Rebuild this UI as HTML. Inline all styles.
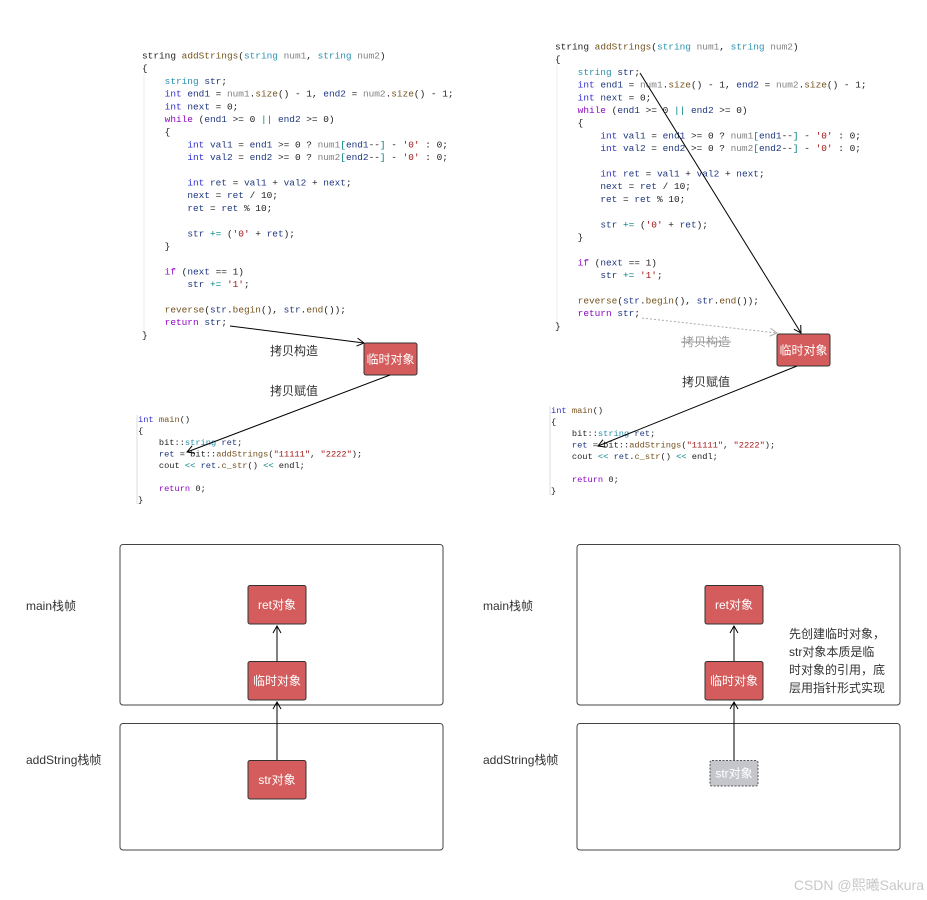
<!DOCTYPE html>
<html><head><meta charset="utf-8"><style>
html,body{margin:0;padding:0;background:#fff;width:927px;height:900px;overflow:hidden}
svg text{white-space:pre}
.c{font-family:"Liberation Mono",monospace;font-size:9.45px;fill:#1e1e1e}
.m{font-family:"Liberation Mono",monospace;font-size:8.7px;fill:#1e1e1e}
.k{fill:#2f2fd0}.t{fill:#2b91af}.p{fill:#8f08c4}.f{fill:#74531f}.s{fill:#a31515}.g{fill:#808080}.v{fill:#1f377f}.o{fill:#008080}
.cn{font-family:"Liberation Sans","Noto Sans CJK SC",sans-serif}
</style></head><body>
<svg width="927" height="900" xmlns="http://www.w3.org/2000/svg">
<defs>
<marker id="a" markerWidth="10" markerHeight="10" refX="8" refY="5" orient="auto" markerUnits="userSpaceOnUse"><path d="M1,1 L8,5 L1,9" fill="none" stroke="#000" stroke-width="1"/></marker>
<marker id="ag" markerWidth="10" markerHeight="10" refX="8" refY="5" orient="auto" markerUnits="userSpaceOnUse"><path d="M1,1 L8,5 L1,9" fill="none" stroke="#aaa" stroke-width="1"/></marker>
<g id="code">
<text class="c" y="0">string <tspan class="f">addStrings</tspan>(<tspan class="t">string</tspan> <tspan class="g">num1</tspan>, <tspan class="t">string</tspan> <tspan class="g">num2</tspan>)</text>
<text class="c" y="12.7">{</text>
<text class="c" y="25.4">    <tspan class="t">string</tspan> <tspan class="v">str</tspan>;</text>
<text class="c" y="38.1">    <tspan class="k">int</tspan> <tspan class="v">end1</tspan> = <tspan class="g">num1</tspan>.<tspan class="f">size</tspan>() - 1, <tspan class="v">end2</tspan> = <tspan class="g">num2</tspan>.<tspan class="f">size</tspan>() - 1;</text>
<text class="c" y="50.8">    <tspan class="k">int</tspan> <tspan class="v">next</tspan> = 0;</text>
<text class="c" y="63.5">    <tspan class="p">while</tspan> (<tspan class="v">end1</tspan> &gt;= 0 <tspan class="o">||</tspan> <tspan class="v">end2</tspan> &gt;= 0)</text>
<text class="c" y="76.2">    {</text>
<text class="c" y="88.9">        <tspan class="k">int</tspan> <tspan class="v">val1</tspan> = <tspan class="v">end1</tspan> &gt;= 0 ? <tspan class="g">num1</tspan><tspan class="o">[</tspan><tspan class="v">end1</tspan>--<tspan class="o">]</tspan> - <tspan class="s">'0'</tspan> : 0;</text>
<text class="c" y="101.6">        <tspan class="k">int</tspan> <tspan class="v">val2</tspan> = <tspan class="v">end2</tspan> &gt;= 0 ? <tspan class="g">num2</tspan><tspan class="o">[</tspan><tspan class="v">end2</tspan>--<tspan class="o">]</tspan> - <tspan class="s">'0'</tspan> : 0;</text>
<text class="c" y="127">        <tspan class="k">int</tspan> <tspan class="v">ret</tspan> = <tspan class="v">val1</tspan> + <tspan class="v">val2</tspan> + <tspan class="v">next</tspan>;</text>
<text class="c" y="139.7">        <tspan class="v">next</tspan> = <tspan class="v">ret</tspan> / 10;</text>
<text class="c" y="152.4">        <tspan class="v">ret</tspan> = <tspan class="v">ret</tspan> % 10;</text>
<text class="c" y="177.8">        <tspan class="v">str</tspan> <tspan class="o">+=</tspan> (<tspan class="s">'0'</tspan> + <tspan class="v">ret</tspan>);</text>
<text class="c" y="190.5">    }</text>
<text class="c" y="215.9">    <tspan class="p">if</tspan> (<tspan class="v">next</tspan> == 1)</text>
<text class="c" y="228.6">        <tspan class="v">str</tspan> <tspan class="o">+=</tspan> <tspan class="s">'1'</tspan>;</text>
<text class="c" y="254">    <tspan class="f">reverse</tspan>(<tspan class="v">str</tspan>.<tspan class="f">begin</tspan>(), <tspan class="v">str</tspan>.<tspan class="f">end</tspan>());</text>
<text class="c" y="266.7">    <tspan class="p">return</tspan> <tspan class="v">str</tspan>;</text>
<text class="c" y="279.4">}</text>
<line x1="2" y1="16" x2="2" y2="276" stroke="#ddd" stroke-dasharray="1,1"/>
</g>
<g id="main">
<text class="m" y="0"><tspan class="k">int</tspan> <tspan class="f">main</tspan>()</text>
<text class="m" y="11.5">{</text>
<text class="m" y="23">    bit::<tspan class="t">string</tspan> <tspan class="v">ret</tspan>;</text>
<text class="m" y="34.5">    <tspan class="v">ret</tspan> = bit::<tspan class="f">addStrings</tspan>(<tspan class="s">"11111"</tspan>, <tspan class="s">"2222"</tspan>);</text>
<text class="m" y="46">    cout <tspan class="o">&lt;&lt;</tspan> <tspan class="v">ret</tspan>.<tspan class="f">c_str</tspan>() <tspan class="o">&lt;&lt;</tspan> endl;</text>
<text class="m" y="69">    <tspan class="p">return</tspan> 0;</text>
<text class="m" y="80.5">}</text>
<line x1="-1" y1="-7" x2="-1" y2="82" stroke="#ddd"/>
</g>
</defs>

<use href="#code" x="142" y="58.5"/>
<use href="#code" x="555" y="49.5"/>
<use href="#main" x="138" y="422"/>
<use href="#main" x="551" y="413"/>

<!-- left upper -->
<rect x="364" y="343" width="53" height="32" rx="2" fill="#d45c5c" stroke="#333" stroke-width="1"/>
<text x="390.5" y="363.5" class="cn" font-size="12" fill="#fff" text-anchor="middle">临时对象</text>
<line x1="230" y1="326" x2="364" y2="343" stroke="#000" marker-end="url(#a)"/>
<line x1="390" y1="375" x2="187" y2="452" stroke="#000" marker-end="url(#a)"/>
<text x="270" y="355" class="cn" font-size="12" fill="#333">拷贝构造</text>
<text x="270" y="395" class="cn" font-size="12" fill="#333">拷贝赋值</text>

<!-- right upper -->
<rect x="777" y="334" width="53" height="32" rx="2" fill="#d45c5c" stroke="#333" stroke-width="1"/>
<text x="803.5" y="354.5" class="cn" font-size="12" fill="#fff" text-anchor="middle">临时对象</text>
<line x1="640" y1="73" x2="801" y2="333" stroke="#000" marker-end="url(#a)"/>
<line x1="642" y1="318" x2="777" y2="333" stroke="#aaa" stroke-dasharray="2,2" marker-end="url(#ag)"/>
<line x1="797" y1="366" x2="598" y2="446" stroke="#000" marker-end="url(#a)"/>
<text x="682" y="346" class="cn" font-size="12" fill="#999">拷贝构造</text>
<line x1="681" y1="342" x2="731" y2="342" stroke="#999"/>
<text x="682" y="386" class="cn" font-size="12" fill="#333">拷贝赋值</text>

<!-- bottom left -->
<rect x="120" y="544.5" width="323" height="160.5" rx="3" fill="none" stroke="#444"/>
<rect x="120" y="723.5" width="323" height="126.5" rx="3" fill="none" stroke="#444"/>
<text x="26" y="610" class="cn" font-size="12" fill="#333">main栈帧</text>
<text x="26" y="764" class="cn" font-size="12" fill="#333">addString栈帧</text>
<rect x="248" y="585.5" width="58" height="38.5" rx="2" fill="#d45c5c" stroke="#333"/>
<text x="277" y="609" class="cn" font-size="12" fill="#fff" text-anchor="middle">ret对象</text>
<rect x="248" y="661.5" width="58" height="38.5" rx="2" fill="#d45c5c" stroke="#333"/>
<text x="277" y="685" class="cn" font-size="12" fill="#fff" text-anchor="middle">临时对象</text>
<rect x="248" y="760.5" width="58" height="38.5" rx="2" fill="#d45c5c" stroke="#333"/>
<text x="277" y="784" class="cn" font-size="12" fill="#fff" text-anchor="middle">str对象</text>
<line x1="277" y1="661" x2="277" y2="626" stroke="#000" marker-end="url(#a)"/>
<line x1="277" y1="760" x2="277" y2="702" stroke="#000" marker-end="url(#a)"/>

<!-- bottom right -->
<rect x="577" y="544.5" width="323" height="160.5" rx="3" fill="none" stroke="#444"/>
<rect x="577" y="723.5" width="323" height="126.5" rx="3" fill="none" stroke="#444"/>
<text x="483" y="610" class="cn" font-size="12" fill="#333">main栈帧</text>
<text x="483" y="764" class="cn" font-size="12" fill="#333">addString栈帧</text>
<rect x="705" y="585.5" width="58" height="38.5" rx="2" fill="#d45c5c" stroke="#333"/>
<text x="734" y="609" class="cn" font-size="12" fill="#fff" text-anchor="middle">ret对象</text>
<rect x="705" y="661.5" width="58" height="38.5" rx="2" fill="#d45c5c" stroke="#333"/>
<text x="734" y="685" class="cn" font-size="12" fill="#fff" text-anchor="middle">临时对象</text>
<rect x="710" y="760.5" width="48" height="25.5" rx="2" fill="#c4c6cc" stroke="#555" stroke-dasharray="2,1.5"/>
<text x="734" y="777.5" class="cn" font-size="12" fill="#fff" text-anchor="middle">str对象</text>
<line x1="734" y1="661" x2="734" y2="626" stroke="#000" marker-end="url(#a)"/>
<line x1="734" y1="760" x2="734" y2="702" stroke="#000" marker-end="url(#a)"/>
<text class="cn" font-size="12" fill="#333"><tspan x="789" y="638">先创建临时对象，</tspan><tspan x="789" y="656">str对象本质是临</tspan><tspan x="789" y="674">时对象的引用，底</tspan><tspan x="789" y="692">层用指针形式实现</tspan></text>

<text x="924" y="890" class="cn" font-size="14" fill="#c8c8c8" text-anchor="end">CSDN @熙曦Sakura</text>
</svg>
</body></html>
